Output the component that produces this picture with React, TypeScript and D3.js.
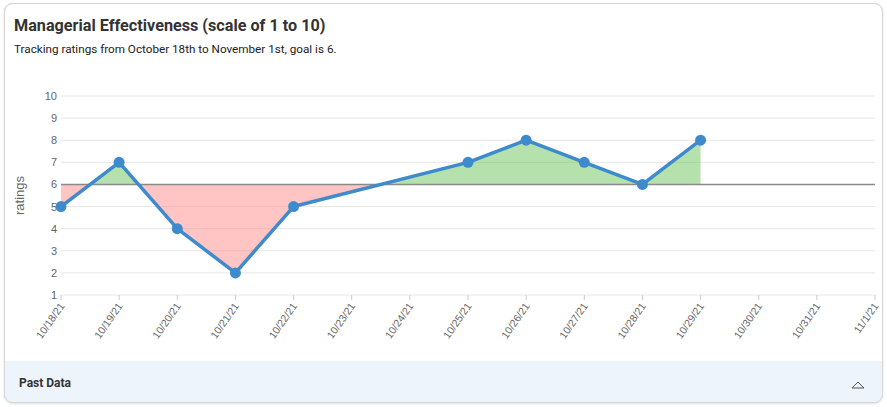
import React from "react";
import * as d3 from "d3";

const dates = ["10/18/21","10/19/21","10/20/21","10/21/21","10/22/21","10/23/21","10/24/21","10/25/21","10/26/21","10/27/21","10/28/21","10/29/21","10/30/21","10/31/21","11/1/21"];
const dataDates = ["10/18/21","10/19/21","10/20/21","10/21/21","10/22/21","10/25/21","10/26/21","10/27/21","10/28/21","10/29/21"];
const ratings = [5,7,4,2,5,7,8,7,6,8];
const yTicks = [1,2,3,4,5,6,7,8,9,10];
const goal = 6;
const title = "Managerial Effectiveness (scale of 1 to 10)";
const subtitle = "Tracking ratings from October 18th to November 1st, goal is 6.";

const W = 887, H = 407;
const parse = d3.timeParse("%m/%d/%y");

export default function App() {
  const x = d3.scaleTime()
    .domain([parse(dates[0])!, parse(dates[dates.length - 1])!])
    .range([61, 875]);
  const y = d3.scaleLinear().domain([1, 10]).range([295, 96]);
  const pts = dataDates.map((d, i) => ({ x: x(parse(d)!), y: y(ratings[i]) }));
  const gy = y(goal);
  const area = d3.area<{ x: number; y: number }>().x(d => d.x).y0(gy).y1(d => d.y);
  const line = d3.line<{ x: number; y: number }>().x(d => d.x).y(d => d.y);
  const areaPath = area(pts) || "";
  const font = "Roboto, 'Helvetica Neue', Arial, sans-serif";
  const axisFont = "'Liberation Sans', Arial, Helvetica, sans-serif";

  return (
    <svg width={W} height={H} style={{ position: "absolute", left: 0, top: 0 }} fontFamily={font}>
      <defs>
        <clipPath id="above"><rect x={0} y={0} width={W} height={gy} /></clipPath>
        <clipPath id="below"><rect x={0} y={gy} width={W} height={H - gy} /></clipPath>
        <clipPath id="card"><rect x={4.5} y={3.5} width={878} height={399} rx={8} /></clipPath>
        <filter id="sh" x="-5%" y="-5%" width="110%" height="110%">
          <feDropShadow dx="0" dy="1" stdDeviation="1" floodColor="#000" floodOpacity="0.12" />
        </filter>
      </defs>
      <rect x={4.5} y={3.5} width={878} height={399} rx={8} fill="#fff" stroke="#d9d9d9" filter="url(#sh)" />
      <g clipPath="url(#card)">
        <rect x={4} y={361} width={880} height={43} fill="#eef4fb" />
      </g>
      <rect x={4.5} y={3.5} width={878} height={399} rx={8} fill="none" stroke="#d6d6d6" />
      <text x={14} y={31} fontSize={16.2} fontWeight={700} fill="#333">{title}</text>
      <text x={14} y={53} fontSize={11.7} fill="#222">{subtitle}</text>

      <g fontFamily={axisFont}>
        {yTicks.map(t => (
          <g key={t}>
            <line x1={61} x2={875} y1={y(t)} y2={y(t)} stroke="#e6e6e6" strokeWidth={1} />
            <text x={57} y={y(t) + 4} textAnchor="end" fontSize={11} fill="#666">{t}</text>
          </g>
        ))}
        <text transform={`translate(24,${y(5.5)}) rotate(-90)`} textAnchor="middle" fontSize={13} fill="#666">ratings</text>
      </g>

      <path d={areaPath} fill="#6cc45c" fillOpacity={0.5} clipPath="url(#above)" />
      <path d={areaPath} fill="#ff8a8a" fillOpacity={0.5} clipPath="url(#below)" />
      <line x1={61} x2={875} y1={gy} y2={gy} stroke="#8a8a8a" strokeWidth={1.5} />

      <g fontFamily={axisFont}>
        {dates.map(d => {
          const xx = x(parse(d)!);
          return (
            <g key={d}>
              <line x1={xx} x2={xx} y1={295} y2={300} stroke="#ccc" />
              <text transform={`translate(${xx + 4},${306}) rotate(-55)`} textAnchor="end" fontSize={10.5} fill="#666">{d}</text>
            </g>
          );
        })}
      </g>

      <path d={line(pts) || ""} fill="none" stroke="#3d8bcd" strokeWidth={3.5} strokeLinejoin="round" />
      {pts.map((p, i) => (
        <circle key={i} cx={p.x} cy={p.y} r={5.5} fill="#3d8bcd" />
      ))}

      <text x={19} y={387} fontSize={12} fontWeight={700} fill="#333">Past Data</text>
      <path d="M852,388 L858,382 L864,388 Z" fill="none" stroke="#555" strokeWidth={1} />
    </svg>
  );
}
